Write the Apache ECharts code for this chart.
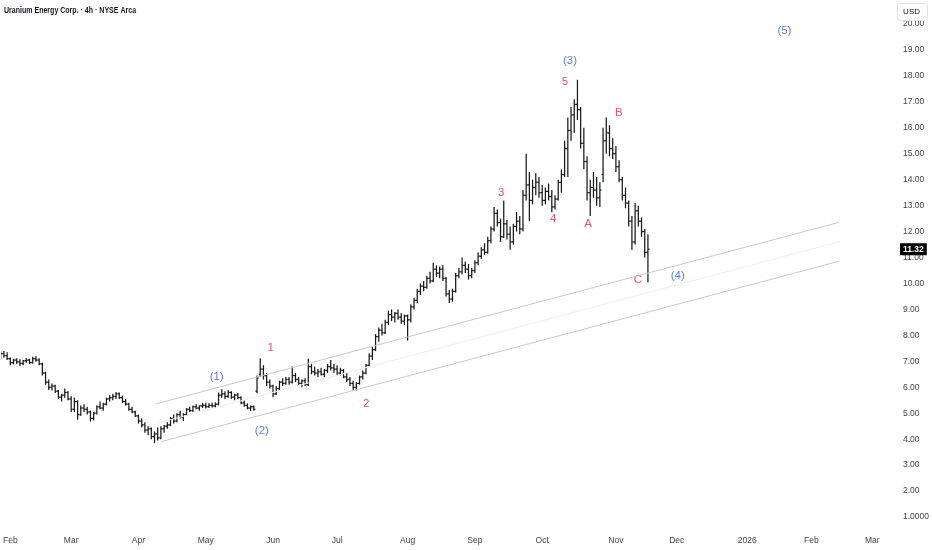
<!DOCTYPE html>
<html>
<head>
<meta charset="utf-8">
<title>UEC 4h</title>
<script src="https://cdn.jsdelivr.net/npm/echarts@6/dist/echarts.min.js"></script>
<style>
  html, body { margin: 0; padding: 0; background: #fff; }
  #chart { width: 932px; height: 550px; }
</style>
</head>
<body>
<div id="chart"></div>
<script>
// trading-day index of the first bar (Jan 29 2025), Feb 3 = 0
const firstDay = -3;

// daily bars [open, high, low, close]
const janBars = [
  [7.20,7.38,7.10,7.30],[7.30,7.40,7.15,7.22],[7.22,7.35,7.05,7.10]
];
const febBars = [
  [7.10,7.15,6.85,6.95],[6.95,7.10,6.88,7.05],[7.05,7.12,6.90,6.98],[6.98,7.08,6.82,6.92],
  [6.92,7.05,6.85,7.02],[7.02,7.12,6.95,7.05],[7.05,7.10,6.90,6.95],[6.95,7.18,6.92,7.10],
  [7.10,7.20,6.98,7.05],[7.05,7.12,6.85,6.90],[6.90,6.95,6.45,6.55],[6.55,6.60,6.10,6.20],
  [6.20,6.30,5.90,6.00],[6.00,6.15,5.88,6.05],[6.05,6.10,5.78,5.85],[5.85,5.90,5.55,5.62],
  [5.62,5.75,5.45,5.70],[5.70,5.95,5.60,5.80],[5.80,5.85,5.50,5.55]
];
const marBars = [
  [5.55,5.65,5.05,5.15],[5.15,5.60,5.05,5.45],[5.45,5.50,4.75,4.95],[4.95,5.30,4.90,5.20],
  [5.20,5.35,5.05,5.15],[5.15,5.25,4.95,5.05],[5.05,5.10,4.68,4.80],[4.80,5.05,4.72,5.00],
  [5.00,5.30,4.95,5.25],[5.25,5.45,5.15,5.20],[5.20,5.40,5.10,5.35],[5.35,5.60,5.30,5.55],
  [5.55,5.70,5.45,5.60],[5.60,5.75,5.50,5.65],[5.65,5.82,5.55,5.75],[5.75,5.80,5.55,5.60],
  [5.60,5.68,5.40,5.45],[5.45,5.55,5.30,5.35],[5.35,5.40,5.10,5.15],[5.15,5.25,5.00,5.05],
  [5.05,5.10,4.85,4.90]
];
const aprBars = [
  [4.90,4.95,4.60,4.70],[4.70,4.80,4.45,4.55],[4.55,4.65,4.25,4.35],[4.35,4.50,4.15,4.40],
  [4.40,4.45,4.00,4.10],[4.10,4.30,3.85,4.20],[4.20,4.45,3.95,4.05],[4.05,4.50,4.00,4.40],
  [4.40,4.55,4.25,4.50],[4.50,4.65,4.40,4.55],[4.55,4.85,4.50,4.80],[4.80,4.95,4.60,4.70],
  [4.70,5.00,4.65,4.95],[4.95,5.10,4.80,4.85],[4.85,5.00,4.70,4.95],[4.95,5.20,4.90,5.15],
  [5.15,5.25,5.05,5.10],[5.10,5.30,5.05,5.25],[5.25,5.35,5.15,5.20],[5.20,5.30,5.10,5.28],
  [5.28,5.40,5.20,5.30]
];
const mayBars = [
  [5.30,5.40,5.18,5.25],[5.25,5.38,5.20,5.30],[5.30,5.40,5.22,5.28],[5.28,5.42,5.20,5.35],
  [5.35,5.80,5.30,5.70],[5.70,5.92,5.60,5.75],[5.75,5.85,5.55,5.65],[5.65,5.90,5.60,5.80],
  [5.80,5.85,5.55,5.62],[5.62,5.75,5.50,5.70],[5.70,5.78,5.55,5.60],[5.60,5.65,5.35,5.40],
  [5.40,5.50,5.25,5.30],[5.30,5.38,5.15,5.20],[5.20,5.30,5.08,5.25],[5.25,5.30,5.10,5.15],
  [5.85,6.45,5.78,6.35],[6.50,7.12,6.40,6.70],[6.70,6.85,6.30,6.45],[6.45,6.55,6.05,6.20],
  [6.20,6.30,5.95,6.05]
];
const junBars = [
  [6.05,6.10,5.62,5.75],[5.75,6.05,5.70,5.95],[5.95,6.25,5.90,6.20],[6.20,6.35,6.05,6.15],
  [6.15,6.40,6.10,6.30],[6.30,6.40,6.10,6.20],[6.20,6.80,6.15,6.45],[6.45,6.55,6.20,6.30],
  [6.30,6.40,6.10,6.15],[6.15,6.30,6.00,6.25],[6.25,6.35,6.05,6.10],[6.10,7.10,6.05,6.80],
  [6.80,6.90,6.50,6.60],[6.60,6.80,6.45,6.55],[6.55,6.70,6.40,6.60],[6.60,6.75,6.45,6.50],
  [6.50,6.70,6.40,6.65],[6.65,6.90,6.55,6.80],[6.80,7.05,6.65,6.75],[6.75,6.90,6.55,6.70]
];
const julBars = [
  [6.70,6.85,6.45,6.55],[6.55,6.75,6.45,6.65],[6.65,6.70,6.35,6.40],[6.40,6.55,6.20,6.30],
  [6.30,6.40,6.05,6.15],[6.15,6.25,5.90,6.00],[6.00,6.20,5.88,6.15],[6.15,6.45,6.10,6.40],
  [6.40,6.65,6.30,6.55],[6.55,6.90,6.50,6.85],[6.85,7.30,6.80,7.20],[7.20,7.55,7.05,7.45],
  [7.45,8.05,7.40,7.95],[7.95,8.30,7.75,8.20],[8.20,8.45,8.00,8.10],[8.10,8.60,8.05,8.50],
  [8.50,8.95,8.40,8.80],[8.80,9.00,8.55,8.70],[8.70,8.90,8.50,8.85],[8.85,9.00,8.60,8.70],
  [8.70,8.85,8.45,8.55],[8.55,8.80,8.40,8.75]
];
const augBars = [
  [8.75,8.80,7.80,8.60],[8.60,9.20,8.50,9.10],[9.10,9.45,9.00,9.35],[9.35,9.80,9.25,9.70],
  [9.70,10.00,9.55,9.90],[9.90,10.10,9.70,9.85],[9.85,10.30,9.80,10.20],[10.20,10.45,10.00,10.10],
  [10.10,10.80,10.05,10.55],[10.55,10.70,10.25,10.40],[10.40,10.65,10.20,10.55],[10.55,10.70,10.10,10.20],
  [10.20,10.25,9.50,9.60],[9.60,9.75,9.25,9.40],[9.40,9.80,9.30,9.70],[9.70,10.40,9.65,10.30],
  [10.30,10.60,10.20,10.45],[10.45,11.00,10.35,10.70],[10.70,10.85,10.40,10.55],[10.55,10.75,10.15,10.30],
  [10.30,10.60,10.20,10.50]
];
const sepBars = [
  [10.50,10.90,10.40,10.80],[10.80,11.20,10.70,11.05],[11.05,11.40,10.95,11.30],[11.30,11.55,11.10,11.20],
  [11.20,11.80,11.15,11.65],[11.65,12.20,11.55,12.10],[12.10,12.95,12.00,12.70],[12.70,12.85,12.20,12.35],
  [12.35,12.50,11.60,11.80],[11.80,13.20,11.75,12.30],[12.30,12.45,11.70,11.90],[11.90,12.20,11.30,11.60],
  [11.60,12.30,11.50,12.20],[12.20,12.75,12.00,12.40],[12.40,12.60,11.90,12.10],[12.10,13.60,12.00,13.40],
  [13.40,15.00,13.20,13.80],[13.80,14.30,12.40,13.20],[13.20,14.00,13.05,13.70],[13.70,14.25,13.40,13.90],
  [13.90,14.10,13.30,13.50]
];
const octBars = [
  [13.50,13.80,13.00,13.20],[13.20,13.70,13.05,13.55],[13.55,13.85,13.20,13.35],[13.35,13.60,12.75,12.95],
  [12.95,13.40,12.85,13.25],[13.25,14.00,13.20,13.90],[13.90,14.40,13.50,14.20],[14.20,15.50,14.10,15.20],
  [15.20,16.40,14.10,15.90],[15.90,16.80,15.50,16.50],[16.50,17.10,15.80,16.90],[16.90,17.85,16.30,16.70],
  [16.70,16.80,15.20,15.40],[15.40,16.00,14.40,14.70],[14.70,14.90,13.20,13.50],[13.50,14.00,12.60,13.70],
  [13.70,14.30,13.30,13.60],[13.60,14.10,13.00,13.30],[13.30,13.90,12.95,13.60],[14.20,16.00,13.90,15.50],
  [15.50,16.40,15.00,15.80],[15.80,16.10,14.90,15.20],[15.20,15.60,14.80,15.00]
];
const novBars = [
  [15.00,15.30,14.30,14.50],[14.50,14.75,13.90,14.00],[14.00,14.10,13.20,13.40],[13.40,13.70,12.90,13.10],
  [13.10,13.20,12.20,12.40],[12.40,12.60,11.30,11.60],[11.60,13.10,11.50,12.80],[12.80,13.00,12.20,12.40],
  [12.40,12.55,11.80,12.00],[12.00,12.10,11.00,11.20],[11.20,11.90,10.05,11.32]
];
const lastClose = 11.32;

// time axis: trading-day index of each month start and its label
const monthStarts = [0, 19, 40, 61, 82, 102, 124, 145, 166, 189, 208, 230, 250, 269];
const monthNames = ['Feb', 'Mar', 'Apr', 'May', 'Jun', 'Jul', 'Aug', 'Sep', 'Oct', 'Nov', 'Dec', '2026', 'Feb', 'Mar'];
const priceTicks = [1, 2, 3, 4, 5, 6, 7, 8, 9, 10, 11, 12, 13, 14, 15, 16, 17, 18, 19, 20];

// channel drawn on the chart, [day index, price]
const channelUpper = [[45.5, 5.36], [258.7, 12.36]];
const channelMid = [[46.3, 4.63], [258.7, 11.61]];
const channelLower = [[47, 3.90], [258.7, 10.86]];

// Elliott wave labels: text, day index, price
const waveText = ['(1)', '(2)', '1', '2', '3', '4', '5', '(3)', 'A', 'B', 'C', '(4)', '(5)'];
const waveDay = [64.4, 78.5, 81.3, 111.1, 153.2, 169.4, 173.1, 174.7, 180.3, 189.9, 195.9, 208.3, 241.6];
const wavePrice = [6.39, 4.33, 7.53, 5.35, 13.49, 12.48, 17.78, 18.57, 12.29, 16.57, 10.13, 10.29, 19.73];

const blue = '#2f5fd0';
const red = '#e5254b';
const font = '"Liberation Sans", Arial, sans-serif';

const allBars = [].concat(janBars, febBars, marBars, aprBars, mayBars, junBars,
  julBars, augBars, sepBars, octBars, novBars);
const ohlc = allBars.map((b, k) => [firstDay + k, b[0], b[1], b[2], b[3]]);

const waveData = waveText.map((t, k) => ({
  name: t,
  value: [waveDay[k], wavePrice[k]],
  label: { color: t.charAt(0) === '(' ? blue : red }
}));

const chart = echarts.init(document.getElementById('chart'));

chart.setOption({
  animation: false,
  backgroundColor: '#fff',
  grid: { left: 0, right: 37, top: 0, bottom: 20 },
  xAxis: {
    type: 'value',
    min: -2.8,
    max: 275.8,
    axisLine: { show: false },
    axisTick: { show: false },
    splitLine: { show: false },
    axisLabel: {
      customValues: monthStarts,
      margin: 6,
      fontSize: 8.5,
      color: '#3b3f4a',
      fontFamily: font,
      formatter: v => monthNames[monthStarts.indexOf(v)]
    }
  },
  yAxis: {
    type: 'value',
    position: 'right',
    min: 0.5,
    max: 20.925,
    axisLine: { show: false },
    axisTick: { show: false },
    splitLine: { show: false },
    axisLabel: {
      customValues: priceTicks,
      margin: 9,
      align: 'left',
      fontSize: 8.5,
      color: '#3b3f4a',
      fontFamily: font,
      formatter: v => (v === 1 ? '1.0000' : v.toFixed(2))
    }
  },
  series: [
    {
      type: 'line', data: channelMid, symbol: 'none', silent: true, clip: false,
      lineStyle: { color: '#eceef2', width: 1 },
      markLine: {
        silent: true,
        symbol: 'none',
        lineStyle: { color: 'rgba(0,0,0,0)', width: 0 },
        data: [{ yAxis: lastClose }],
        label: {
          position: 'end',
          distance: 6,
          formatter: lastClose.toFixed(2),
          backgroundColor: '#000',
          color: '#fff',
          fontSize: 8.5,
          fontWeight: 'bold',
          fontFamily: font,
          padding: [2, 3, 1, 3]
        }
      }
    },
    {
      type: 'line', data: channelUpper, symbol: 'none', silent: true,
      lineStyle: { color: '#c7cad1', width: 1 }
    },
    {
      type: 'line', data: channelLower, symbol: 'none', silent: true,
      lineStyle: { color: '#c7cad1', width: 1 }
    },
    {
      type: 'custom',
      data: ohlc,
      clip: true,
      encode: { x: 0, y: [1, 2, 3, 4] },
      renderItem: function (params, api) {
        const d = api.value(0);
        const hi = api.coord([d, api.value(2)]);
        const lo = api.coord([d, api.value(3)]);
        const op = api.coord([d, api.value(1)]);
        const cl = api.coord([d, api.value(4)]);
        const st = { stroke: '#17191d', lineWidth: 1.25 };
        return {
          type: 'group',
          children: [
            { type: 'line', shape: { x1: hi[0], y1: hi[1], x2: lo[0], y2: lo[1] }, style: st },
            { type: 'line', shape: { x1: op[0] - 1.6, y1: op[1], x2: op[0], y2: op[1] }, style: st },
            { type: 'line', shape: { x1: cl[0], y1: cl[1], x2: cl[0] + 1.6, y2: cl[1] }, style: st }
          ]
        };
      }
    },
    {
      type: 'scatter',
      data: waveData,
      symbolSize: 0,
      silent: true,
      label: {
        show: true,
        position: 'inside',
        fontSize: 11.5,
        fontFamily: font,
        formatter: p => p.name
      }
    }
  ],
  graphic: [
    {
      type: 'text',
      left: 4,
      top: 5,
      scaleX: 0.74,
      style: {
        text: 'Uranium Energy Corp. · 4h · NYSE Arca',
        fontSize: 9.5,
        fontWeight: 'bold',
        fill: '#131722',
        fontFamily: font
      }
    },
    {
      type: 'rect',
      right: 4,
      top: 3,
      z: 100,
      shape: { width: 30, height: 17, r: 2 },
      style: { fill: '#fff', stroke: '#e0e3eb', lineWidth: 1 }
    },
    {
      type: 'text',
      right: 12,
      top: 7.5,
      z: 101,
      style: { text: 'USD', fontSize: 8, fill: '#131722', fontFamily: font }
    }
  ]
});
</script>
</body>
</html>
